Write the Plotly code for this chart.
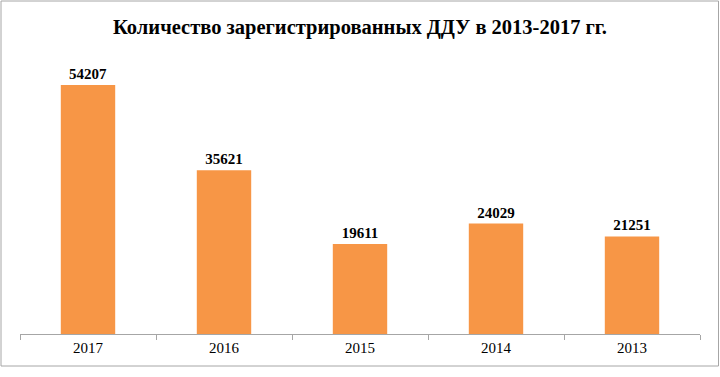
import plotly.graph_objects as go

years = ["2017", "2016", "2015", "2014", "2013"]
counts = [54207, 35621, 19611, 24029, 21251]

W, H = 720, 377
L, R, T, B = 20, 20, 58, 43
plot_w = W - L - R
plot_h = H - T - B

fig = go.Figure(go.Bar(
    x=years, y=counts,
    marker=dict(color="#F79646", line=dict(width=0)),
    width=0.4,
    text=[str(v) for v in counts],
    texttemplate="<b>%{text}</b>",
    textposition="outside",
    textfont=dict(family="Liberation Serif", size=15, color="#000000"),
    cliponaxis=False,
    hoverinfo="skip",
))

def px_x(p):
    return (p - L) / plot_w

def px_y(p):
    return (H - B - p) / plot_h

fig.add_shape(type="rect", xref="paper", yref="paper",
              x0=px_x(1), x1=px_x(718.5), y0=px_y(366), y1=px_y(1),
              line=dict(color="#a6a6a6", width=1), fillcolor="rgba(0,0,0,0)", layer="below")

fig.update_layout(
    width=W, height=H,
    margin=dict(l=L, r=R, t=T, b=B),
    paper_bgcolor="white", plot_bgcolor="white",
    showlegend=False,
    title=dict(text="<b>Количество зарегистрированных ДДУ в 2013-2017 гг.</b>",
               x=0.5, xanchor="center", y=1 - 27 / H, yanchor="middle",
               font=dict(family="Liberation Serif", size=20.5, color="#000000")),
    xaxis=dict(type="category", showline=True, linecolor="#a6a6a6", linewidth=1,
               ticks="outside", tickson="boundaries", ticklen=5, tickcolor="#a6a6a6",
               tickfont=dict(family="Liberation Serif", size=15, color="#000000"),
               showgrid=False, zeroline=False, fixedrange=True),
    yaxis=dict(range=[0, 54207 * plot_h / 249], visible=False, showgrid=False, fixedrange=True),
)

fig.write_html("out.html", config={"displayModeBar": False},
               post_script="document.body.style.margin='0';")
